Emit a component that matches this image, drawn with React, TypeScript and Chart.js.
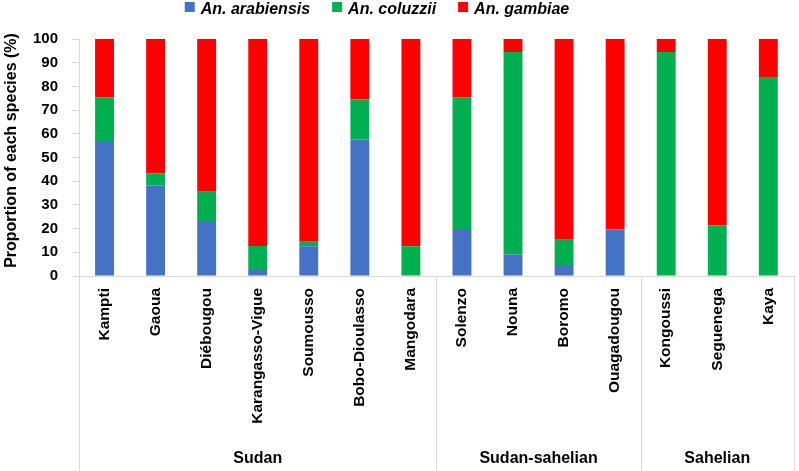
import { useEffect, useRef } from 'react';
import { Chart, registerables } from 'chart.js';

Chart.register(...registerables);

const categories = [
  'Kampti', 'Gaoua', 'Diébougou', 'Karangasso-Vigue', 'Soumousso', 'Bobo-Dioulasso', 'Mangodara',
  'Solenzo', 'Nouna', 'Boromo', 'Ouagadougou',
  'Kongoussi', 'Seguenega', 'Kaya',
];
const arabiensis = [57, 38.2, 23.2, 3, 12.6, 57.6, 0, 19.8, 9.1, 4.6, 19.7, 0, 0, 0];
const coluzzii = [18.3, 5.2, 12.4, 9.7, 1.9, 16.9, 12.6, 55.5, 85.4, 10.7, 0, 94.5, 21.4, 84];
const gambiae = [24.7, 56.6, 64.4, 87.3, 85.5, 25.5, 87.4, 24.7, 5.5, 84.7, 80.3, 5.5, 78.6, 16];
const seriesNames = ['An. arabiensis', 'An. coluzzii', 'An. gambiae'];
const seriesColors = ['#4472C4', '#00B050', '#FF0000'];
const zoneNames = ['Sudan', 'Sudan-sahelian', 'Sahelian'];
const zoneSizes = [7, 4, 3];
const yTitle = 'Proportion of each species (%)';

const AXIS_COLOR = '#d9d9d9';
const FONT = 'Liberation Sans';

const zonePlugin = {
  id: 'zones',
  afterDraw(chart: any) {
    const { ctx, chartArea } = chart;
    const x = chart.scales.x;
    const H = chart.height;
    const bounds = [0];
    let acc = 0;
    zoneSizes.forEach((s) => {
      acc += s;
      bounds.push(acc);
    });
    ctx.save();
    ctx.strokeStyle = AXIS_COLOR;
    ctx.lineWidth = 1;
    bounds.forEach((b) => {
      const px = Math.round(x.getPixelForValue(b - 0.5)) + 0.5;
      ctx.beginPath();
      ctx.moveTo(px, chartArea.bottom);
      ctx.lineTo(px, H);
      ctx.stroke();
    });
    ctx.fillStyle = '#000';
    ctx.font = `bold 16px "${FONT}"`;
    ctx.textAlign = 'center';
    ctx.textBaseline = 'alphabetic';
    zoneNames.forEach((n, i) => {
      const x0 = x.getPixelForValue(bounds[i] - 0.5);
      const x1 = x.getPixelForValue(bounds[i + 1] - 0.5);
      ctx.fillText(n, (x0 + x1) / 2, H - 8);
    });
    // y-axis title, centred like the reference (slightly above the plot centre)
    ctx.save();
    ctx.translate(12, (chartArea.top + chartArea.bottom) / 2 - 7);
    ctx.rotate(-Math.PI / 2);
    ctx.font = `bold 16px "${FONT}"`;
    ctx.textAlign = 'center';
    ctx.textBaseline = 'middle';
    ctx.fillText(yTitle, 0, 0);
    ctx.restore();
    ctx.restore();
  },
};

const legendPlugin = {
  id: 'topLegend',
  afterDraw(chart: any) {
    const ctx = chart.ctx;
    ctx.save();
    ctx.font = `italic bold 16px "${FONT}"`;
    const box = 10;
    const gapBox = 6;
    const gapItem = 22;
    const items = chart.data.datasets.map((d: any) => ({
      label: d.label,
      color: d.backgroundColor,
      w: ctx.measureText(d.label).width,
    }));
    const total =
      items.reduce((s: number, it: any) => s + box + gapBox + it.w, 0) + gapItem * (items.length - 1);
    let cx = 377 - total / 2;
    items.forEach((it: any) => {
      ctx.fillStyle = it.color;
      ctx.fillRect(cx, 2, box, box);
      ctx.fillStyle = '#000';
      ctx.textAlign = 'left';
      ctx.textBaseline = 'alphabetic';
      ctx.fillText(it.label, cx + box + gapBox, 13.5);
      cx += box + gapBox + it.w + gapItem;
    });
    ctx.restore();
  },
};

export default function App() {
  const ref = useRef<HTMLCanvasElement | null>(null);

  useEffect(() => {
    document.body.style.margin = '0';
    const canvas = ref.current;
    if (!canvas) return;
    const values = [arabiensis, coluzzii, gambiae];
    const chart = new Chart(canvas, {
      type: 'bar',
      data: {
        labels: categories,
        datasets: seriesNames.map((name, i) => ({
          label: name,
          data: values[i],
          backgroundColor: seriesColors[i],
          borderWidth: 0,
          categoryPercentage: 1,
          barPercentage: 0.37,
        })),
      },
      options: {
        animation: false,
        responsive: false,
        maintainAspectRatio: false,
        layout: { padding: { top: 39, right: 2, left: 0, bottom: 0 } },
        plugins: {
          legend: { display: false },
          tooltip: { enabled: false },
        },
        scales: {
          x: {
            stacked: true,
            grid: { display: true, drawOnChartArea: false, drawTicks: false, color: 'rgba(0,0,0,0)' },
            border: { display: true, color: AXIS_COLOR, width: 1 },
            ticks: {
              autoSkip: false,
              maxRotation: 90,
              minRotation: 90,
              padding: 12,
              color: '#000',
              font: { family: FONT, weight: 'bold', size: 15.5 },
            },
            afterFit: (s: any) => {
              s.height = 195;
            },
          },
          y: {
            stacked: true,
            min: 0,
            max: 100,
            ticks: {
              stepSize: 10,
              padding: 14,
              color: '#000',
              font: { family: FONT, weight: 'bold', size: 15 },
            },
            grid: { drawOnChartArea: false, drawTicks: true, tickLength: 7, color: AXIS_COLOR },
            border: { display: true, color: AXIS_COLOR, width: 1 },
            title: { display: false, text: yTitle },
            afterFit: (s: any) => {
              s.width = 79;
            },
          },
        },
      },
      plugins: [zonePlugin, legendPlugin],
    } as any);
    return () => chart.destroy();
  }, []);

  return (
    <div style={{ position: 'absolute', left: 0, top: 0, width: 799, height: 471 }}>
      <canvas ref={ref} width={799} height={471} style={{ display: 'block' }} />
    </div>
  );
}
